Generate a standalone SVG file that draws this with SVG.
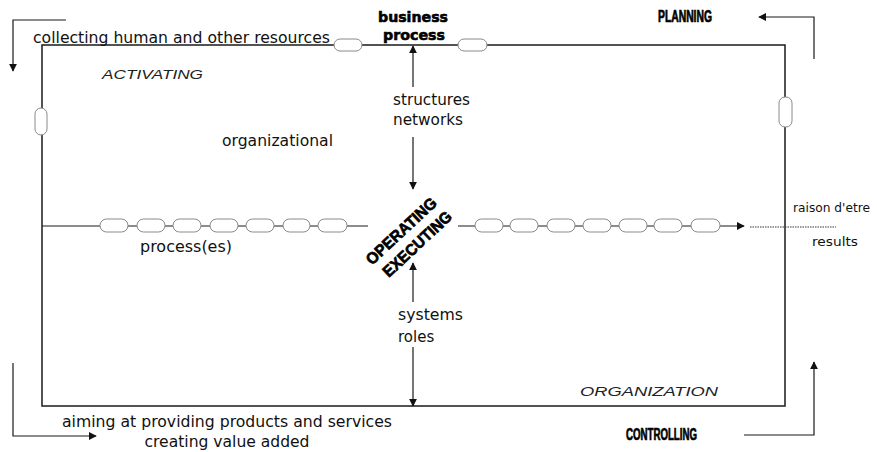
<svg xmlns="http://www.w3.org/2000/svg" width="877" height="452" viewBox="0 0 877 452">
  <defs>
    <marker id="arrow" viewBox="0 0 10 10" refX="9" refY="5" markerWidth="8" markerHeight="8" markerUnits="userSpaceOnUse" orient="auto">
      <path d="M0,0 L10,5 L0,10 z" fill="#111"/>
    </marker>
    <style>
      .frame { fill: none; stroke: #1a1a1a; stroke-width: 1.5; }
      .line { fill: none; stroke: #1a1a1a; stroke-width: 1.2; }
      .dotted { fill: none; stroke: #333; stroke-width: 1; stroke-dasharray: 1.5 1; }
      .cap { fill: #fff; stroke: #8a8a8a; stroke-width: 1; }
      .label { font-family: "DejaVu Sans", "Liberation Sans", sans-serif; font-size: 15px; fill: #111; }
      .small { font-family: "DejaVu Sans", "Liberation Sans", sans-serif; font-size: 12.5px; fill: #111; }
      .bold { font-family: "DejaVu Sans", "Liberation Sans", sans-serif; font-weight: bold; font-size: 14.5px; fill: #000; stroke: #000; stroke-width: 0.6; }
      .heavy { font-family: "Liberation Sans", "DejaVu Sans", sans-serif; font-weight: bold; font-size: 16px; fill: #000; stroke: #000; stroke-width: 0.7; }
      .script { font-family: "Liberation Sans", "DejaVu Sans", sans-serif; font-style: italic; font-size: 12px; fill: #222; }
    </style>
  </defs>

  <!-- organization frame -->
  <g id="frame">
    <rect class="frame" x="42" y="45" width="743" height="361"/>
  </g>

  <!-- connectors -->
  <g id="connectors">
    <!-- middle process chain -->
    <line class="line" x1="42" y1="226" x2="368" y2="226"/>
    <line class="line" x1="458" y1="226" x2="744" y2="226" marker-end="url(#arrow)"/>
    <line class="dotted" x1="750" y1="227" x2="836" y2="227"/>
    <!-- vertical arrows through the centre -->
    <line class="line" x1="413" y1="87" x2="413" y2="46" marker-end="url(#arrow)"/>
    <line class="line" x1="413" y1="137" x2="413" y2="189" marker-end="url(#arrow)"/>
    <line class="line" x1="413" y1="302" x2="413" y2="263" marker-end="url(#arrow)"/>
    <line class="line" x1="413" y1="347" x2="413" y2="406" marker-end="url(#arrow)"/>
    <!-- outer cycle arrows -->
    <polyline class="line" points="66,20 13,20 13,71" marker-end="url(#arrow)"/>
    <polyline class="line" points="13,363 13,436 96,436" marker-end="url(#arrow)"/>
    <polyline class="line" points="744,435 814,435 814,362" marker-end="url(#arrow)"/>
    <polyline class="line" points="814,59 814,17 759,17" marker-end="url(#arrow)"/>
  </g>

  <!-- capsules on the frame -->
  <g id="frame-links">
    <rect class="cap" x="334" y="39" width="28" height="12" rx="6"/>
    <rect class="cap" x="458" y="39" width="29" height="12" rx="6"/>
    <rect class="cap" x="35" y="108" width="12" height="27" rx="6"/>
    <rect class="cap" x="779" y="97" width="13" height="30" rx="6"/>
  </g>

  <!-- process chain links -->
  <g id="chain-left">
    <rect class="cap" x="100" y="219" width="28" height="13" rx="6.5"/>
    <rect class="cap" x="137" y="219" width="28" height="13" rx="6.5"/>
    <rect class="cap" x="173" y="219" width="28" height="13" rx="6.5"/>
    <rect class="cap" x="210" y="219" width="28" height="13" rx="6.5"/>
    <rect class="cap" x="246" y="219" width="28" height="13" rx="6.5"/>
    <rect class="cap" x="283" y="219" width="27" height="13" rx="6.5"/>
    <rect class="cap" x="318" y="219" width="29" height="13" rx="6.5"/>
  </g>
  <g id="chain-right">
    <rect class="cap" x="475" y="219" width="28" height="13" rx="6.5"/>
    <rect class="cap" x="510" y="219" width="28" height="13" rx="6.5"/>
    <rect class="cap" x="547" y="219" width="28" height="13" rx="6.5"/>
    <rect class="cap" x="583" y="219" width="28" height="13" rx="6.5"/>
    <rect class="cap" x="619" y="219" width="28" height="13" rx="6.5"/>
    <rect class="cap" x="654" y="219" width="28" height="13" rx="6.5"/>
    <rect class="cap" x="691" y="219" width="29" height="13" rx="6.5"/>
  </g>

  <!-- labels -->
  <g id="business-process">
    <text class="bold" x="413" y="22" text-anchor="middle" textLength="70" lengthAdjust="spacingAndGlyphs">business</text>
    <text class="bold" x="414" y="40" text-anchor="middle" textLength="62" lengthAdjust="spacingAndGlyphs">process</text>
  </g>
  <g id="planning">
    <text class="heavy" x="658" y="22" textLength="54" lengthAdjust="spacingAndGlyphs">PLANNING</text>
  </g>
  <g id="controlling">
    <text class="heavy" x="626" y="440" textLength="71" lengthAdjust="spacingAndGlyphs">CONTROLLING</text>
  </g>
  <g id="activating">
    <text class="script" x="102" y="79" textLength="101" lengthAdjust="spacingAndGlyphs">ACTIVATING</text>
  </g>
  <g id="organization">
    <text class="script" x="580" y="396" textLength="138" lengthAdjust="spacingAndGlyphs">ORGANIZATION</text>
  </g>
  <g id="collecting">
    <text class="label" x="33" y="43" textLength="297" lengthAdjust="spacingAndGlyphs">collecting human and other resources</text>
  </g>
  <g id="aiming">
    <text class="label" x="227" y="427" text-anchor="middle" textLength="330" lengthAdjust="spacingAndGlyphs">aiming at providing products and services</text>
    <text class="label" x="227" y="447" text-anchor="middle" textLength="165" lengthAdjust="spacingAndGlyphs">creating value added</text>
  </g>
  <g id="organizational">
    <text class="label" x="222" y="146" textLength="111" lengthAdjust="spacingAndGlyphs">organizational</text>
  </g>
  <g id="structures">
    <text class="label" x="393" y="105" textLength="77" lengthAdjust="spacingAndGlyphs">structures</text>
    <text class="label" x="393" y="125" textLength="70" lengthAdjust="spacingAndGlyphs">networks</text>
  </g>
  <g id="systems">
    <text class="label" x="398" y="320" textLength="65" lengthAdjust="spacingAndGlyphs">systems</text>
    <text class="label" x="398" y="342">roles</text>
  </g>
  <g id="processes">
    <text class="label" x="140" y="252" textLength="92" lengthAdjust="spacingAndGlyphs">process(es)</text>
  </g>
  <g id="results">
    <text class="small" x="793" y="212" textLength="77" lengthAdjust="spacingAndGlyphs">raison d'etre</text>
    <text class="small" x="812" y="246" textLength="46" lengthAdjust="spacingAndGlyphs">results</text>
  </g>
  <g id="operating">
    <text class="heavy" transform="translate(405,235) rotate(-43)" text-anchor="middle" textLength="90" lengthAdjust="spacingAndGlyphs">OPERATING</text>
    <text class="heavy" transform="translate(421,248) rotate(-43)" text-anchor="middle" textLength="88" lengthAdjust="spacingAndGlyphs">EXECUTING</text>
  </g>
</svg>
